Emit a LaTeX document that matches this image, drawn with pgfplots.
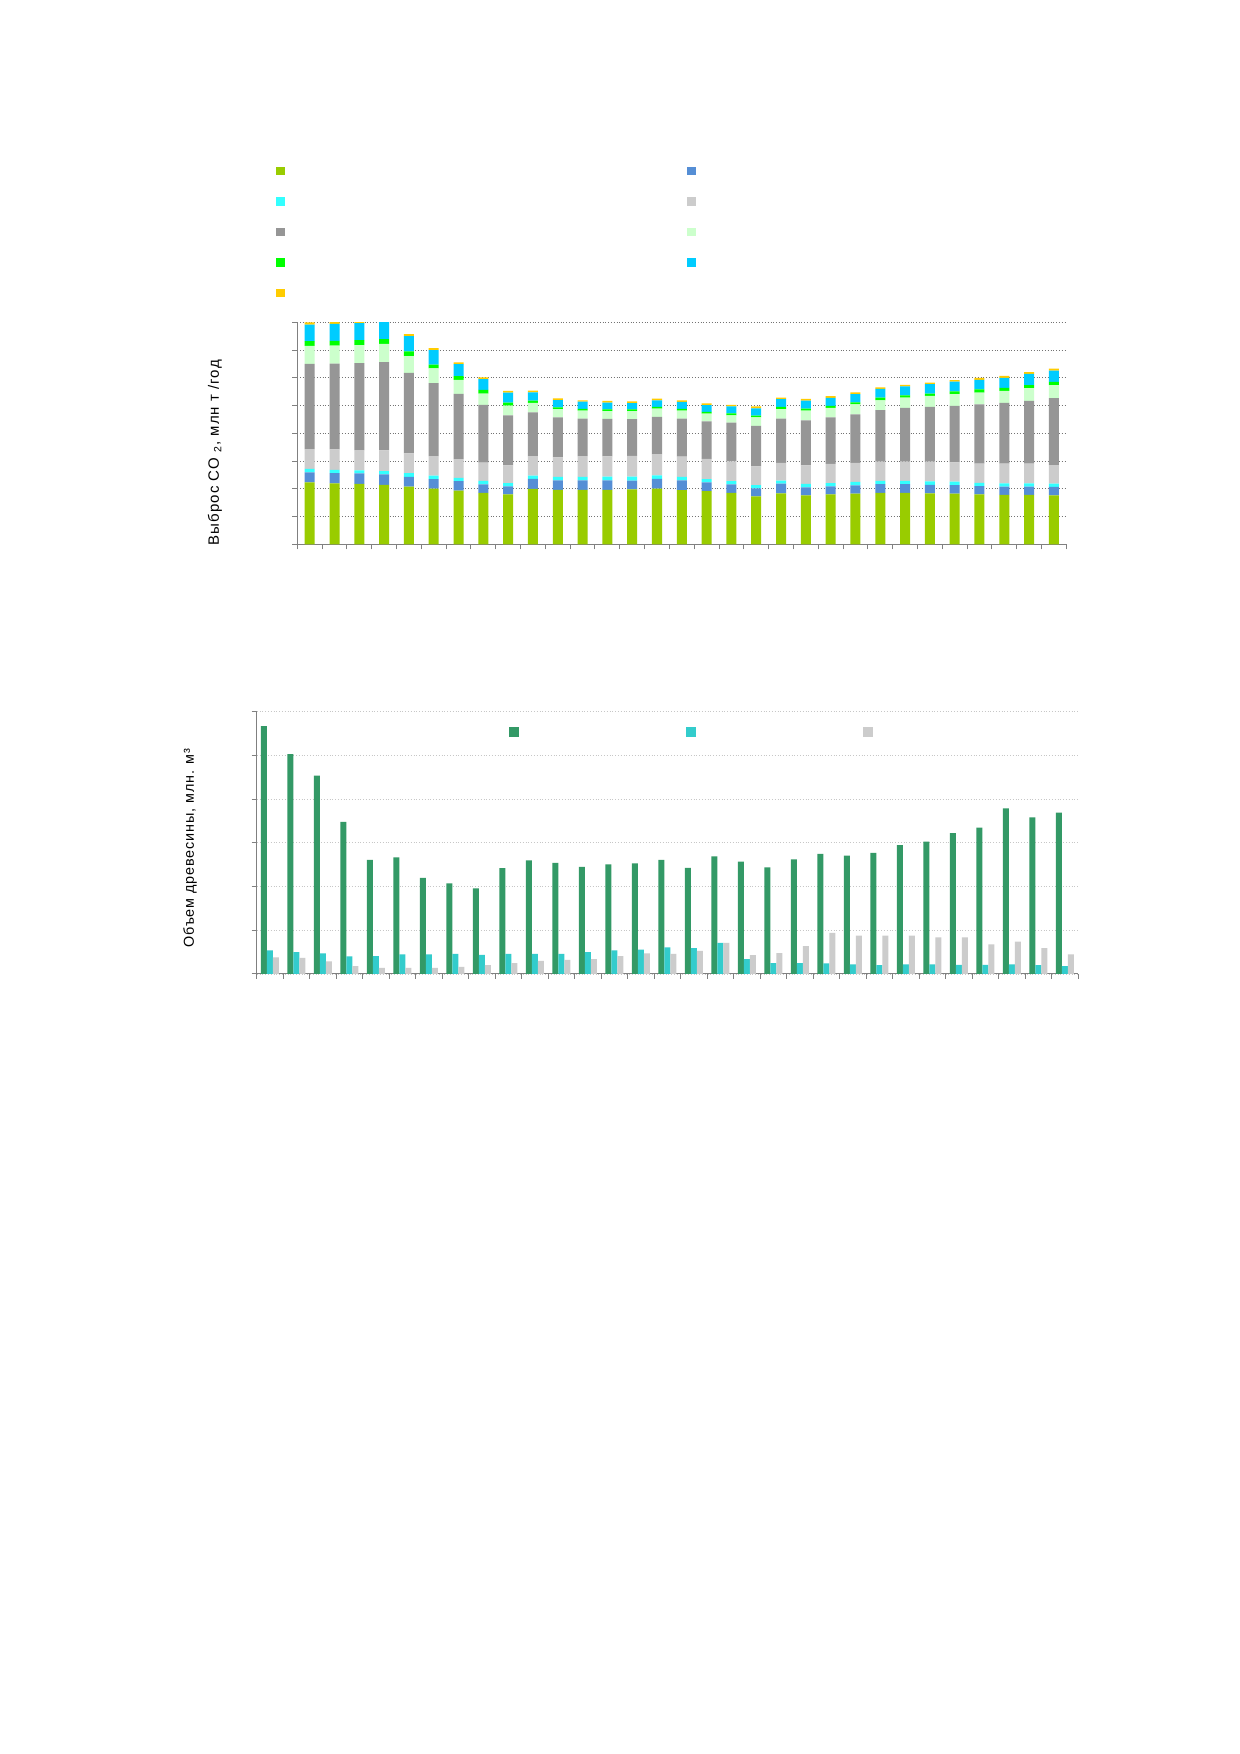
\documentclass[border=0pt]{standalone}
\usepackage{pgfplots}
\pgfplotsset{compat=1.18}
\usepackage{pgfplotstable}
\usepackage{fontspec}
\setmainfont{Liberation Sans}
\definecolor{cA}{HTML}{99CC00}
\definecolor{cB}{HTML}{558ED5}
\definecolor{cC}{HTML}{33FFFF}
\definecolor{cD}{HTML}{CCCCCC}
\definecolor{cE}{HTML}{969696}
\definecolor{cF}{HTML}{CCFFCC}
\definecolor{cG}{HTML}{00FF00}
\definecolor{cH}{HTML}{00CCFF}
\definecolor{cI}{HTML}{FFCC00}
\definecolor{wA}{HTML}{339966}
\definecolor{wB}{HTML}{33CCCC}
\definecolor{wC}{HTML}{CCCCCC}
\newcommand\labelfont{\fontsize{7.2}{8.6}\selectfont\addfontfeature{LetterSpace=6}}
\newcommand\labelfontA{\fontsize{7.5}{9}\selectfont\addfontfeature{LetterSpace=7}}

\pgfplotstableread{
x a b c d e f g h i
0 224 36 12 71 307 65 17 60 8
1 220 37 12 73 309 65 17 61 8
2 218 38 11 73 313 65 18 61 8
3 215 37 12 75 318 65 17 72 8
4 208 35 14 71 290 60 17 55 7
5 201 34 13 70 263 53 14 52 7
6 194 34 12 67 235 51 13 43 7
7 186 30 13 66 208 40 14 38 7
8 180 29 12 64 180 35 11 36 6
9 200 36 12 70 158 34 8 30 6
10 197 34 12 71 144 29 7 26 6
11 197 34 12 75 135 29 6 26 5
12 197 34 13 73 135 28 6 25 6
13 198 32 14 75 132 29 6 23 6
14 201 35 13 76 134 30 6 24 6
15 196 35 12 73 137 29 6 25 6
16 192 32 11 73 135 28 6 25 6
17 186 30 12 71 140 26 7 25 6
18 173 29 12 67 146 31 6 26 7
19 184 35 11 64 159 34 8 28 6
20 177 29 12 67 162 35 7 29 6
21 180 29 12 69 168 34 7 29 6
22 183 30 12 69 174 36 8 29 7
23 186 31 12 69 186 35 10 31 6
24 186 31 12 69 194 37 8 32 6
25 184 31 12 71 197 40 8 34 6
26 183 31 12 70 203 42 10 35 6
27 180 30 12 69 213 43 11 35 7
28 179 29 12 71 219 43 11 36 7
29 179 29 12 71 226 46 11 40 7
30 177 30 12 67 241 47 11 41 7
}\emis

\pgfplotstableread{
x w t g
0 56.7 5.4 3.8
1 50.3 5.0 3.7
2 45.4 4.7 2.9
3 34.8 4.0 1.8
4 26.1 4.1 1.4
5 26.7 4.5 1.4
6 22.0 4.5 1.4
7 20.7 4.6 1.6
8 19.6 4.4 2.0
9 24.2 4.6 2.5
10 26.0 4.6 3.0
11 25.4 4.6 3.2
12 24.5 5.0 3.4
13 25.1 5.4 4.1
14 25.3 5.6 4.7
15 26.1 6.1 4.6
16 24.3 5.9 5.3
17 26.9 7.1 7.1
18 25.7 3.4 4.3
19 24.4 2.5 4.8
20 26.2 2.5 6.4
21 27.5 2.4 9.4
22 27.1 2.2 8.8
23 27.7 2.0 8.8
24 29.5 2.2 8.8
25 30.3 2.2 8.4
26 32.2 2.1 8.4
27 33.5 2.1 6.8
28 37.9 2.2 7.4
29 35.8 2.0 5.9
30 36.9 1.8 4.5
}\wood

\begin{document}
\begin{tikzpicture}
\useasboundingbox (0,0) rectangle (619.5pt,877pt);
\fill[white] (0,0) rectangle (619.5pt,877pt);

\begin{axis}[
  at={(148.65pt,604.75pt)}, anchor=south west,
  width=384.5pt, height=111.1pt, scale only axis,
  ybar stacked, bar width=5pt,
  xmin=-0.5, xmax=30.5, ymin=0, ymax=800,
  ytick={0,100,...,800},
  xtick={-0.5,0.5,...,30.5},
  xticklabels={}, yticklabels={},
  axis lines*=left,
  axis line style={color=black!50, line width=0.5pt},
  tick style={color=black!50, line width=0.5pt},
  tick align=outside, major tick length=2.5pt,
  ymajorgrids,
  major grid style={densely dotted, color=black!55, line width=0.5pt},
  every axis y label/.style={at={(axis description cs:-0.107,0.413)}, rotate=90, anchor=center, font=\labelfontA},
  ylabel={Выброс CO \textsubscript{2}, млн т /год},
  legend columns=2,
  legend image code/.code={\fill[#1,draw=none] (0pt,0pt) rectangle (4.2pt,4.2pt);},
  legend style={draw=none, fill=none, inner sep=0pt, outer sep=0pt,
    column sep=0pt, row sep=10.5pt,
    nodes={inner sep=0pt, outer sep=0pt, text width=201.3pt, text height=0pt, text depth=0pt},
    at={(axis description cs:-0.0273,1.699)}, anchor=north west},
]
\addplot[fill=cA, draw=none] table[x=x,y=a]{\emis}; \addlegendentry{\mbox{}}
\addplot[fill=cB, draw=none] table[x=x,y=b]{\emis}; \addlegendentry{\mbox{}}
\addplot[fill=cC, draw=none] table[x=x,y=c]{\emis}; \addlegendentry{\mbox{}}
\addplot[fill=cD, draw=none] table[x=x,y=d]{\emis}; \addlegendentry{\mbox{}}
\addplot[fill=cE, draw=none] table[x=x,y=e]{\emis}; \addlegendentry{\mbox{}}
\addplot[fill=cF, draw=none] table[x=x,y=f]{\emis}; \addlegendentry{\mbox{}}
\addplot[fill=cG, draw=none] table[x=x,y=g]{\emis}; \addlegendentry{\mbox{}}
\addplot[fill=cH, draw=none] table[x=x,y=h]{\emis}; \addlegendentry{\mbox{}}
\addplot[fill=cI, draw=none] table[x=x,y=i]{\emis}; \addlegendentry{\mbox{}}
\end{axis}

\begin{axis}[
  at={(128.35pt,390pt)}, anchor=south west,
  width=410.65pt, height=131.15pt, scale only axis,
  ybar=0pt, bar width=3pt,
  xmin=-0.5, xmax=30.5, ymin=0, ymax=60,
  ytick={0,10,...,60},
  xtick={-0.5,0.5,...,30.5},
  xticklabels={}, yticklabels={},
  axis lines*=left,
  axis line style={color=black!50, line width=0.5pt},
  tick style={color=black!50, line width=0.5pt},
  tick align=outside, major tick length=2.5pt,
  ymajorgrids,
  major grid style={densely dotted, color=black!22, line width=0.4pt},
  every axis y label/.style={at={(axis description cs:-0.0812,0.480)}, rotate=90, anchor=center, font=\labelfont},
  ylabel={Объем древесины, млн. м³},
  legend columns=3,
  legend image code/.code={\fill[#1,draw=none] (0pt,0pt) rectangle (5pt,5pt);},
  legend style={draw=none, fill=none, inner sep=0pt, outer sep=0pt,
    column sep=0pt,
    nodes={inner sep=0pt, outer sep=0pt, text width=83.5pt, text height=0pt, text depth=0pt},
    at={(axis description cs:0.3072,0.9417)}, anchor=north west},
]
\addplot[fill=wA, draw=none] table[x=x,y=w]{\wood}; \addlegendentry{\mbox{}}
\addplot[fill=wB, draw=none] table[x=x,y=t]{\wood}; \addlegendentry{\mbox{}}
\addplot[fill=wC, draw=none] table[x=x,y=g]{\wood}; \addlegendentry{\mbox{}}
\end{axis}
\end{tikzpicture}
\end{document}
